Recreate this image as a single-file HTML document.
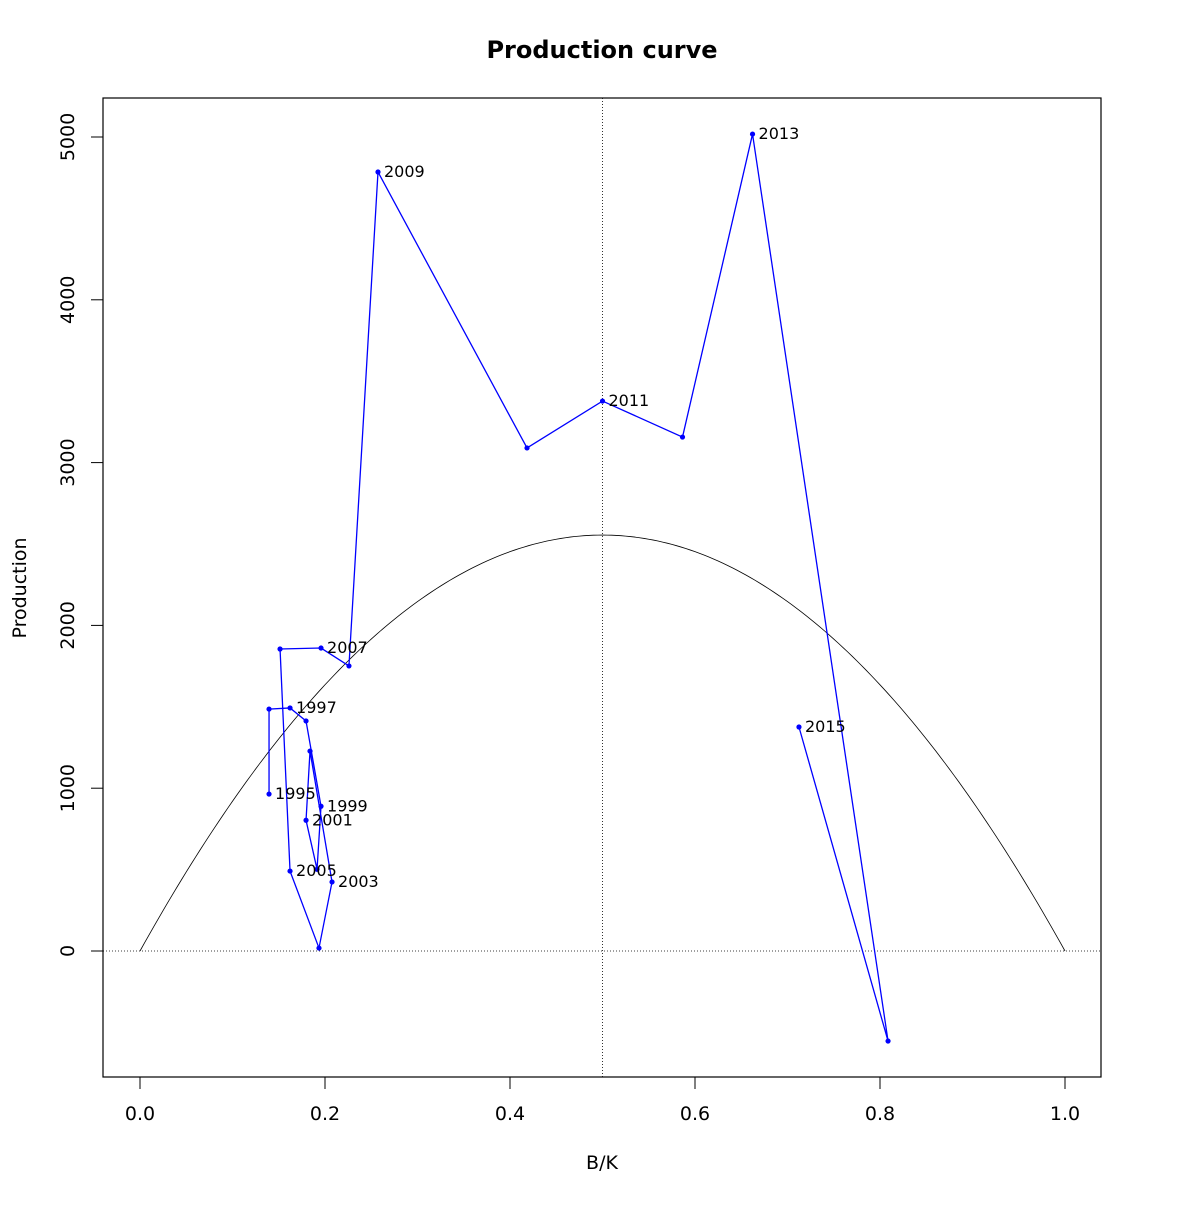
<!DOCTYPE html>
<html><head><meta charset="utf-8"><style>
html,body{margin:0;padding:0;background:#fff;}
svg text{font-family:"DejaVu Sans","Liberation Sans",sans-serif;}
</style></head><body>
<svg id="chart" width="1200" height="1200" viewBox="0 0 1200 1200" xmlns="http://www.w3.org/2000/svg">
<rect width="1200" height="1200" fill="#fff"/>
<text x="602" y="58" text-anchor="middle" font-size="24" font-weight="bold">Production curve</text>
<text x="602" y="1169" text-anchor="middle" font-size="19">B/K</text>
<text transform="translate(26,588) rotate(-90)" text-anchor="middle" font-size="19">Production</text>
<rect x="103" y="98" width="998" height="979" fill="none" stroke="#000" stroke-width="1.2"/>
<g id="axes"></g>
<g id="marks"></g>
</svg>
<script>
const years = [1995,1996,1997,1998,1999,2000,2001,2002,2003,2004,2005,2006,2007,2008,2009,2010,2011,2012,2013,2014,2015];
const bk = [0.1395,0.1395,0.1622,0.1795,0.1957,0.1914,0.1795,0.1838,0.2076,0.1935,0.1622,0.1514,0.1957,0.2259,0.2573,0.4184,0.5000,0.5865,0.6622,0.8087,0.7124];
const production = [964,1486,1493,1413,889,502,803,1228,424,18,491,1855,1861,1751,4785,3090,3378,3157,5018,-553,1376];
const msy = [2555];
const xTicks = [0,0.2,0.4,0.6,0.8,1.0];
const xTickLabels = ["0.0","0.2","0.4","0.6","0.8","1.0"];
const yTicks = [0,1000,2000,3000,4000,5000];
const yTickLabels = ["0","1000","2000","3000","4000","5000"];

const NS="http://www.w3.org/2000/svg";
const X = v => 140 + v*925;
const Y = v => 951 - v*0.1628;
function mk(tag, attrs, parent){const e=document.createElementNS(NS,tag);for(const k in attrs)e.setAttribute(k,attrs[k]);parent.appendChild(e);return e;}
const axes=document.getElementById('axes'), marks=document.getElementById('marks');

xTicks.forEach((t,i)=>{
  const l=mk('line',{x1:X(t),x2:X(t),y1:1077,y2:1089,stroke:'#000'},axes);
  
  
  const tx=mk('text',{x:X(t),y:1120,'text-anchor':'middle','font-size':19},axes);
  tx.textContent=xTickLabels[i];
  
  
});
yTicks.forEach((t,i)=>{
  const l=mk('line',{x1:91,x2:103,y1:Y(t),y2:Y(t),stroke:'#000'},axes);
  
  
  const tx=mk('text',{transform:`translate(74,${Y(t)}) rotate(-90)`,'text-anchor':'middle','font-size':19},axes);
  tx.textContent=yTickLabels[i];
  
  
});

const h=mk('line',{x1:103,x2:1101,y1:Y(0),y2:Y(0),stroke:'#000','stroke-dasharray':'1,2','stroke-width':0.8},marks);


const v=mk('line',{x1:X(0.5),x2:X(0.5),y1:98,y2:1077,stroke:'#000','stroke-dasharray':'1,2','stroke-width':0.8},marks);



let d='';
for(let i=0;i<=200;i++){const b=i/200;const p=4*msy[0]*b*(1-b);d+=(i?'L':'M')+X(b).toFixed(2)+','+Y(p).toFixed(2);}
const c=mk('path',{d:d,fill:'none',stroke:'#000','stroke-width':0.8},marks);



const pts=bk.map((b,i)=>X(b).toFixed(2)+','+Y(production[i]).toFixed(2)).join(' ');
const pl=mk('polyline',{points:pts,fill:'none',stroke:'#0000ff','stroke-width':1.3},marks);


bk.forEach((b,i)=>{
  const pt=mk('circle',{cx:X(b),cy:Y(production[i]),r:2.6,fill:'#0000ff'},marks);
  
  
  if(years[i]%2===1){
    const t=mk('text',{x:X(b)+6,y:Y(production[i])+5,'font-size':16},marks);
    t.textContent=String(years[i]);
    
    
  }
});
</script>
</body></html>
